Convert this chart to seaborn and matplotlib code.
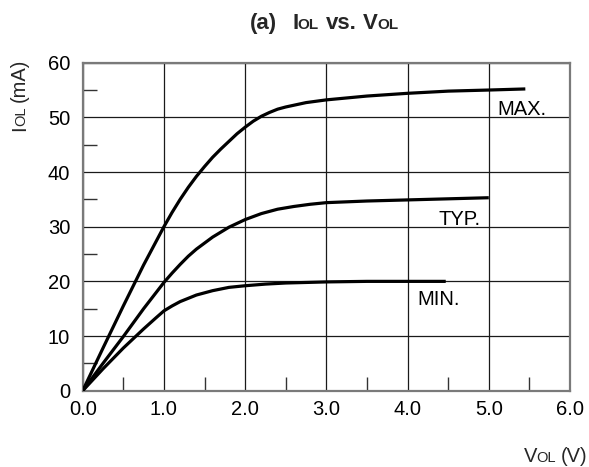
import numpy as np
import pandas as pd
import seaborn as sns
import matplotlib
matplotlib.use("Agg")
import matplotlib.pyplot as plt
from matplotlib.ticker import MultipleLocator
from matplotlib.transforms import IdentityTransform

# ---- data ----
max_v = [0.0, 0.25, 0.5, 0.75, 1.0, 1.1, 1.2, 1.3, 1.4, 1.5, 1.6, 1.7, 1.8, 1.9, 2.0,
         2.1, 2.2, 2.3, 2.4, 2.5, 2.75, 3.0, 3.5, 4.0, 4.5, 5.0, 5.45]
max_i = [0.0, 7.8, 15.5, 23.0, 30.0, 32.6, 35.0, 37.2, 39.2, 41.0, 42.7, 44.2, 45.6, 47.0, 48.2,
         49.3, 50.2, 50.9, 51.5, 51.9, 52.7, 53.2, 53.9, 54.4, 54.8, 55.0, 55.2]

typ_v = [0.0, 0.25, 0.5, 0.75, 1.0, 1.1, 1.2, 1.3, 1.4, 1.5, 1.6, 1.7, 1.8, 1.9, 2.0,
         2.2, 2.4, 2.6, 2.8, 3.0, 3.5, 4.0, 4.5, 5.0]
typ_i = [0.0, 5.0, 9.9, 15.0, 19.8, 21.5, 23.1, 24.6, 25.9, 27.0, 28.1, 29.0, 29.9, 30.6, 31.3,
         32.4, 33.2, 33.7, 34.1, 34.4, 34.7, 34.9, 35.1, 35.3]

min_v = [0.0, 0.25, 0.5, 0.75, 0.9, 1.0, 1.1, 1.2, 1.3, 1.4, 1.5, 1.6, 1.7, 1.8, 2.0,
         2.25, 2.5, 3.0, 3.5, 4.0, 4.47]
min_i = [0.0, 4.0, 7.8, 11.3, 13.3, 14.6, 15.5, 16.3, 16.9, 17.5, 17.9, 18.3, 18.6, 18.9, 19.2,
         19.5, 19.7, 19.9, 20.0, 20.0, 20.0]

curve_names = ["MAX.", "TYP.", "MIN."]
label_pos_v = [5.11, 4.38, 4.12]
label_pos_i = [51.5, 31.4, 16.6]

x_ticks = [0, 1, 2, 3, 4, 5, 6]
x_tick_labels = ["0.0", "1.0", "2.0", "3.0", "4.0", "5.0", "6.0"]
y_ticks = [0, 10, 20, 30, 40, 50, 60]

df = pd.concat([
    pd.DataFrame({"V": max_v, "I": max_i, "curve": "MAX."}),
    pd.DataFrame({"V": typ_v, "I": typ_i, "curve": "TYP."}),
    pd.DataFrame({"V": min_v, "I": min_i, "curve": "MIN."}),
], ignore_index=True)

sns.set_theme(style="white")
plt.rcParams["font.family"] = ["Liberation Sans", "DejaVu Sans"]

FS = 14.5
W, H = 589, 467
fig = plt.figure(figsize=(W / 100, H / 100), dpi=100)
ax = fig.add_axes([82.7 / W, 1 - 390.7 / H, (570 - 82.7) / W, (390.7 - 62.7) / H])

for name in curve_names:
    sub = df[df["curve"] == name]
    sns.lineplot(data=sub, x="V", y="I", ax=ax, color="black", lw=2.3,
                 sort=False, estimator=None, legend=False, zorder=3,
                 solid_joinstyle="round", solid_capstyle="butt")

ax.set_xlim(0, 6)
ax.set_ylim(0, 60)
ax.set_xticks(x_ticks)
ax.set_xticklabels(x_tick_labels)
ax.set_yticks(y_ticks)
ax.xaxis.set_minor_locator(MultipleLocator(0.5))
ax.yaxis.set_minor_locator(MultipleLocator(5))
ax.tick_params(which="major", length=0, labelsize=FS, colors="black")
ax.tick_params(axis="x", which="major", pad=7)
ax.tick_params(axis="y", which="major", pad=9)
ax.tick_params(which="minor", direction="in", length=10, width=1.0, color="#333333",
               bottom=True, left=True, top=False, right=False)
ax.grid(True, which="major", color="#1a1a1a", lw=0.9)
ax.set_axisbelow(True)
for s in ax.spines.values():
    s.set_color("#7a7a7a")
    s.set_linewidth(1.6)
    s.set_visible(True)
ax.set_xlabel("")
ax.set_ylabel("")

for name, lx, ly in zip(curve_names, label_pos_v, label_pos_i):
    ax.text(lx, ly, name, fontsize=FS, ha="left", va="center", color="black")

# ---- rich text helper (big letters with small-cap subscripts on the baseline) ----
renderer = fig.canvas.get_renderer()


def rich(x_px, y_px, pieces, rotation=0, ha="left"):
    """x_px,y_px: anchor in pixels from top-left; pieces: (text, size, weight, gap_px)."""
    arts = []
    widths = []
    for txt, size, weight, gap in pieces:
        t = fig.text(0, 0, txt, fontsize=size, fontweight=weight, rotation=rotation,
                     rotation_mode="anchor", ha="left", va="baseline",
                     transform=IdentityTransform())
        bb = t.get_window_extent(renderer)
        w = bb.height if rotation == 90 else bb.width
        arts.append(t)
        widths.append(w + gap)
    total = sum(widths)
    start = 0
    if ha == "center":
        start = -total / 2
    elif ha == "right":
        start = -total
    pos = start
    for t, (txt, size, weight, gap), w in zip(arts, pieces, widths):
        pos += gap
        if rotation == 90:
            t.set_position((x_px, (H - y_px) + pos))
        else:
            t.set_position((x_px + pos, H - y_px))
        pos += w - gap


TS = 16
rich(324, 29, [("(a)", TS, "bold", 0), ("I", TS, "bold", 15), ("OL", 11, "bold", -1),
               ("vs.", TS, "bold", 8), ("V", TS, "bold", 6), ("OL", 11, "bold", -1)],
     ha="center")
rich(25, 131, [("I", FS, "normal", 0), ("OL", 10.5, "normal", -1), ("(mA)", FS, "normal", 5)],
     rotation=90)
rich(587, 461.5, [("V", FS, "normal", 0), ("OL", 10.5, "normal", -1), ("(V)", FS, "normal", 5)],
     ha="right")

fig.savefig("out.png", dpi=100)
